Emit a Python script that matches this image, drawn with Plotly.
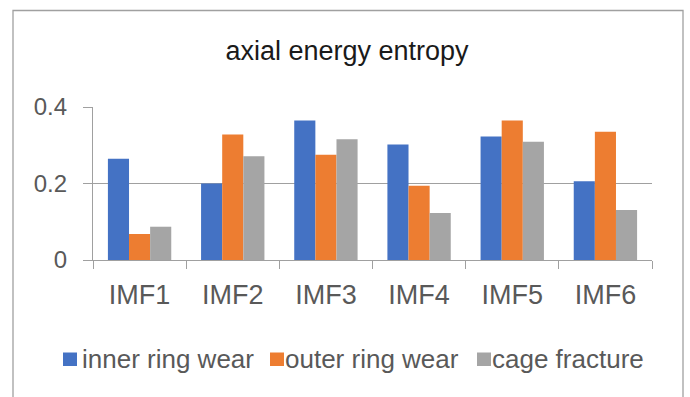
import plotly.graph_objects as go

# Energy entropy of the axial vibration signal, per IMF component
categories = ["IMF1", "IMF2", "IMF3", "IMF4", "IMF5", "IMF6"]
inner_ring_wear = [0.265, 0.200, 0.365, 0.302, 0.323, 0.206]
outer_ring_wear = [0.068, 0.328, 0.275, 0.194, 0.365, 0.335]
cage_fracture = [0.087, 0.271, 0.316, 0.123, 0.309, 0.131]

series_names = ["inner ring wear", "outer ring wear", "cage fracture"]
series_values = [inner_ring_wear, outer_ring_wear, cage_fracture]
series_colors = ["#4472C4", "#ED7D31", "#A5A5A5"]

y_ticks = [0, 0.2, 0.4]
y_tick_text = ["0", "0.2", "0.4"]

W, H = 690, 397
ML, MR, MT, MB = 93, 38, 107, 137
FONT = "Liberation Sans, Arial, sans-serif"
TEXT_GREY = "#595959"
LINE_GREY = "#A0A0A0"


def px_x(px):
    return (px - ML) / (W - ML - MR)


def px_y(py):
    return 1 - (py - MT) / (H - MT - MB)


fig = go.Figure()
for name, vals, color in zip(series_names, series_values, series_colors):
    fig.add_trace(go.Bar(
        x=categories, y=vals, name=name,
        marker=dict(color=color, line=dict(width=0)),
        showlegend=False,
    ))

# Outer chart frame
fig.add_shape(type="rect", xref="paper", yref="paper",
              x0=px_x(13), x1=px_x(683), y0=px_y(405), y1=px_y(10.5),
              line=dict(color=LINE_GREY, width=1.3), fillcolor="rgba(0,0,0,0)",
              layer="below")

# Legend row drawn below the plot
legend_square_x = [63, 270, 477]
legend_text_x = [80, 283, 490]
for name, color, sx, tx in zip(series_names, series_colors, legend_square_x, legend_text_x):
    fig.add_shape(type="rect", xref="paper", yref="paper",
                  x0=px_x(sx), x1=px_x(sx + 14), y0=px_y(366), y1=px_y(352.5),
                  line=dict(width=0), fillcolor=color)
    fig.add_annotation(x=px_x(tx), y=px_y(359), xref="paper", yref="paper",
                       text=name, showarrow=False, xanchor="left", yanchor="middle",
                       font=dict(family=FONT, size=26, color=TEXT_GREY))

fig.update_layout(
    width=W, height=H,
    margin=dict(l=ML, r=MR, t=MT, b=MB, pad=0),
    paper_bgcolor="white", plot_bgcolor="white",
    barmode="group", bargap=0.32, bargroupgap=0,
    title=dict(text="axial energy entropy", x=347 / W, xanchor="center",
               xref="container", yref="container", y=1 - 51 / H, yanchor="middle",
               font=dict(family=FONT, size=27, color="#1a1a1a")),
    showlegend=False,
)
fig.update_xaxes(
    type="category", showline=True, linecolor=LINE_GREY, linewidth=1.3,
    ticks="outside", tickson="boundaries", ticklen=8, tickcolor=LINE_GREY, tickwidth=1.3,
    showgrid=False, ticklabelstandoff=10,
    tickfont=dict(family=FONT, size=27, color=TEXT_GREY),
)
fig.update_yaxes(
    range=[0, 0.4], tickvals=y_ticks, ticktext=y_tick_text,
    showline=True, linecolor=LINE_GREY, linewidth=1.3,
    ticks="outside", ticklen=9, tickcolor=LINE_GREY, tickwidth=1.3,
    showgrid=True, gridcolor=LINE_GREY, gridwidth=1.3, zeroline=False,
    ticklabelstandoff=11,
    tickfont=dict(family=FONT, size=24, color=TEXT_GREY),
)

fig.write_html("out.html")
